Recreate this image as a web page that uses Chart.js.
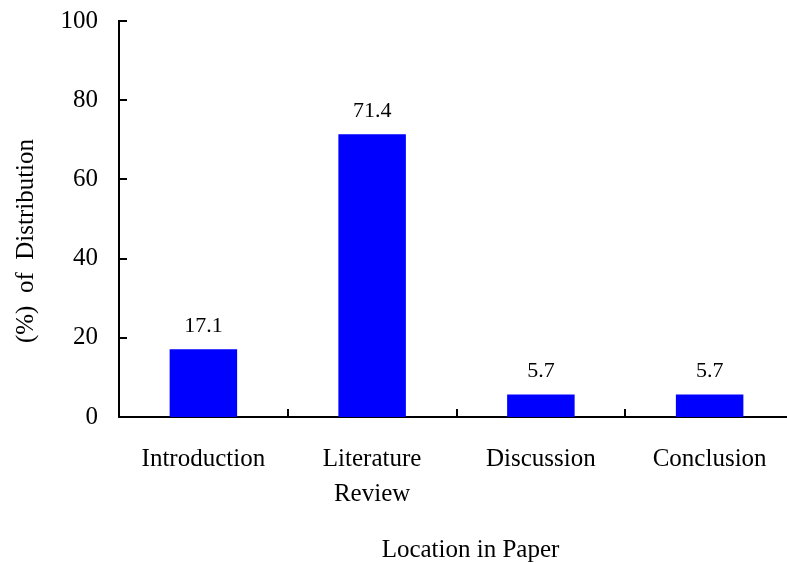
<!DOCTYPE html>
<html>
<head>
<meta charset="utf-8">
<script src="https://cdn.jsdelivr.net/npm/chart.js@4/dist/chart.umd.min.js"></script>
<style>
  html, body { margin: 0; padding: 0; background: #fff; overflow: hidden; }
  #wrap { width: 800px; height: 563px; }
</style>
</head>
<body>
<div id="wrap"><canvas id="locChart" width="800" height="563"></canvas></div>
<script>
// ==================== DATA ====================
const categories = [["Introduction"], ["Literature", "Review"], ["Discussion"], ["Conclusion"]];
const percentages = [17.1, 71.4, 5.7, 5.7];
const yTicks = [0, 20, 40, 60, 80, 100];

const FONT = "'Liberation Serif', 'Times New Roman', serif";

// ticks pointing into the plot + value labels + axis titles
const decorPlugin = {
    id: "decor",
    afterDraw(chart) {
        const { ctx, chartArea } = chart;
        const x = chart.scales.x, y = chart.scales.y;
        ctx.save();
        ctx.strokeStyle = "#000";
        ctx.lineWidth = 2;
        ctx.beginPath();
        yTicks.forEach(v => {
            const py = Math.round(y.getPixelForValue(v));
            ctx.moveTo(chartArea.left, py);
            ctx.lineTo(chartArea.left + 8, py);
        });
        for (let i = 0; i < categories.length; i++) {
            const px = Math.round(i < categories.length - 1
                ? (x.getPixelForValue(i) + x.getPixelForValue(i + 1)) / 2
                : chartArea.right);
            ctx.moveTo(px, chartArea.bottom);
            ctx.lineTo(px, chartArea.bottom - 8);
        }
        ctx.stroke();

        // value labels above bars
        ctx.fillStyle = "#000";
        ctx.font = `22px ${FONT}`;
        ctx.textAlign = "center";
        ctx.textBaseline = "alphabetic";
        chart.getDatasetMeta(0).data.forEach((bar, i) => {
            ctx.fillText(percentages[i].toFixed(1), bar.x, bar.y - 17);
        });

        // axis titles
        ctx.font = `25px ${FONT}`;
        ctx.fillText("Location in Paper", (chartArea.left + chartArea.right) / 2 + 14, chartArea.bottom + 140);
        ctx.translate(33, (chartArea.top + chartArea.bottom) / 2 + 22);
        ctx.rotate(-Math.PI / 2);
        ctx.fillText("(%)  of  Distribution", 0, 0);
        ctx.restore();
    }
};

new Chart(document.getElementById("locChart").getContext("2d"), {
    type: "bar",
    data: {
        labels: categories,
        datasets: [{
            data: percentages,
            backgroundColor: "#0000FF",
            borderWidth: 0,
            categoryPercentage: 1,
            barPercentage: 0.4,
        }],
    },
    options: {
        responsive: false,
        animation: false,
        layout: { padding: { top: 21, right: 6, left: 0, bottom: 0 } },
        plugins: {
            legend: { display: false },
            tooltip: { enabled: false }
        },
        scales: {
            x: {
                grid: { display: false, drawTicks: false },
                border: { color: "#000", width: 2 },
                ticks: {
                    color: "#000",
                    font: { family: FONT, size: 25, lineHeight: 1.4 },
                    padding: 25,
                    maxRotation: 0,
                    autoSkip: false
                },
                afterFit: s => { s.height = 146; }
            },
            y: {
                min: 0,
                max: 100,
                grid: { display: false, drawTicks: false },
                border: { color: "#000", width: 2 },
                ticks: {
                    stepSize: 20,
                    color: "#000",
                    font: { family: FONT, size: 25 },
                    padding: 21
                },
                afterFit: s => {
                    s.width = 119;
                    s.paddingTop = 0;
                    s.paddingBottom = 0;
                }
            }
        }
    },
    plugins: [decorPlugin]
});
</script>
</body>
</html>
